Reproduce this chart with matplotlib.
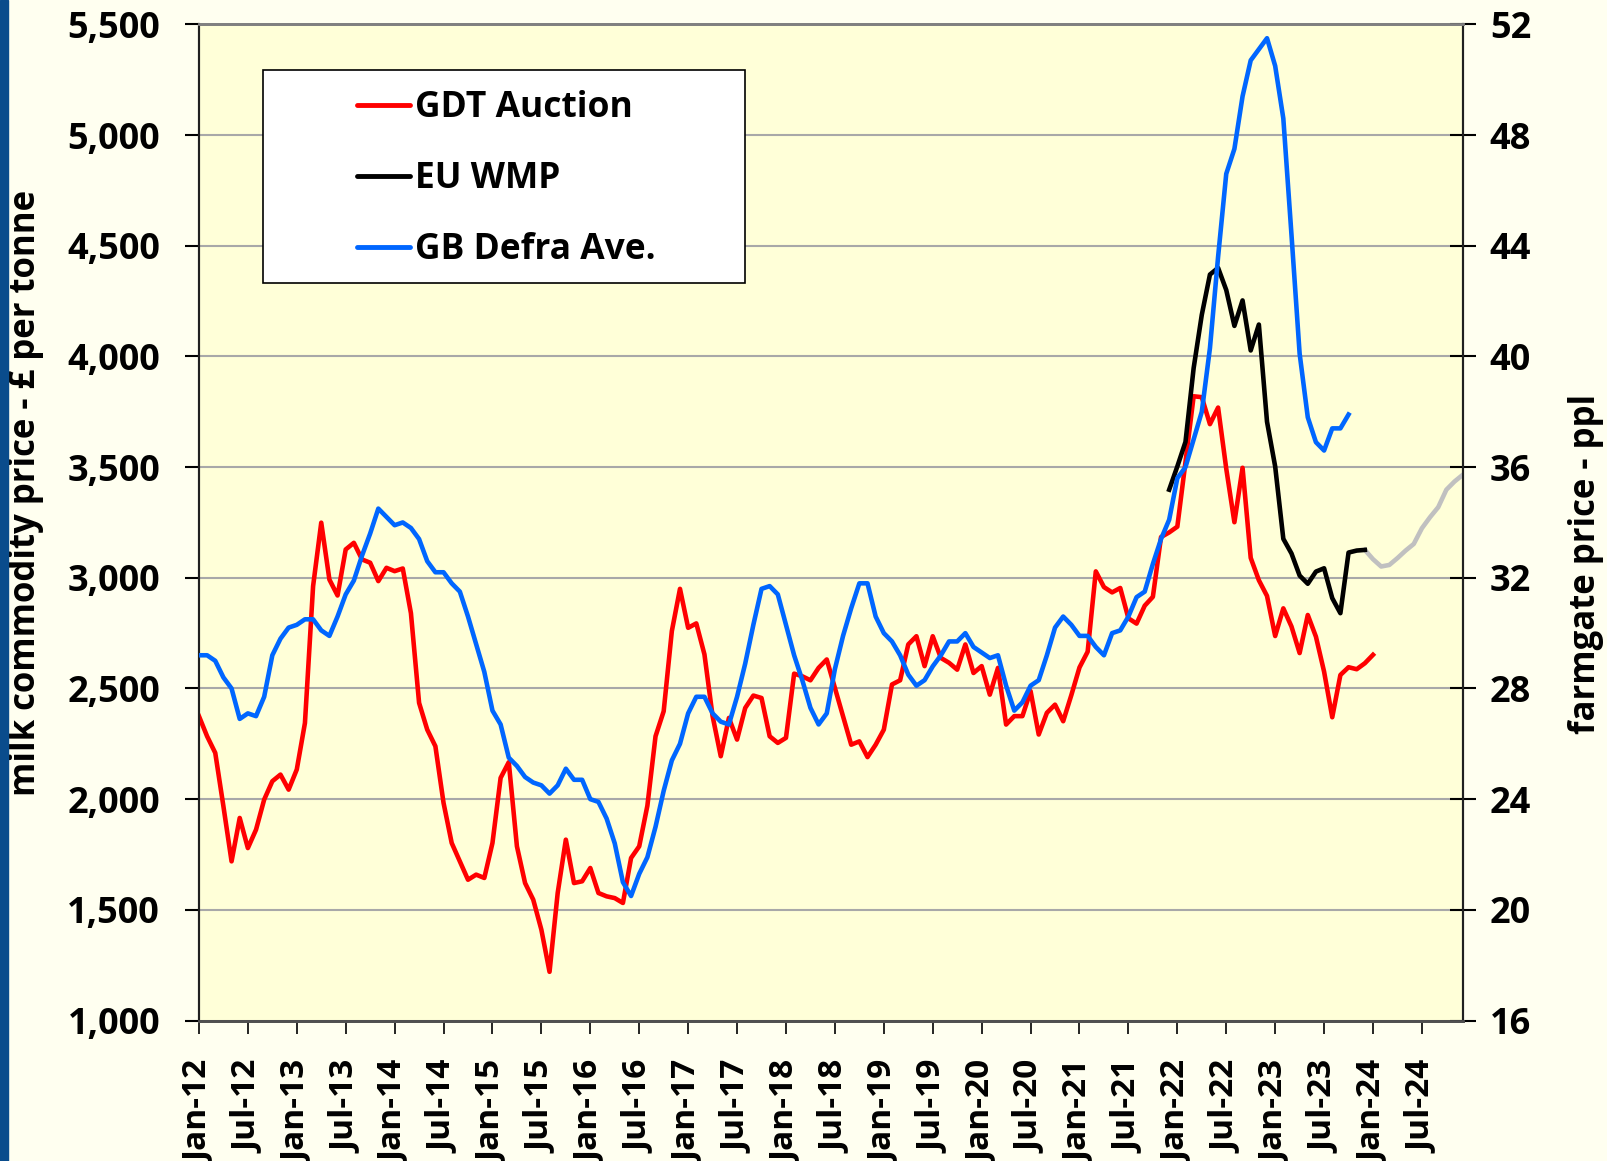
import numpy as np
import pandas as pd
import matplotlib
matplotlib.use('Agg')
import matplotlib.pyplot as plt
from matplotlib.lines import Line2D
from matplotlib.patches import Rectangle
from matplotlib.ticker import FuncFormatter

plt.rcParams['font.family'] = ['Open Sans', 'DejaVu Sans']
plt.rcParams['font.weight'] = 'bold'

# monthly series, month 0 = Jan-12
gdt_auction = [
    2375, 2284, 2209, 1968, 1719, 1915, 1779, 1862, 1998, 2081, 2111, 2043,
    2134, 2344, 2962, 3249, 2992, 2920, 3128, 3158, 3083, 3068, 2985, 3045,
    3030, 3042, 2840, 2435, 2314, 2239, 1983, 1802, 1719, 1636, 1659, 1644,
    1802, 2096, 2167, 1787, 1621, 1546, 1410, 1220, 1576, 1817, 1621, 1629,
    1689, 1576, 1561, 1553, 1531, 1734, 1787, 1970, 2284, 2397, 2759, 2950,
    2774, 2794, 2654, 2375, 2194, 2367, 2269, 2412, 2468, 2457, 2284, 2254,
    2277, 2567, 2555, 2537, 2593, 2631, 2503, 2375, 2246, 2261, 2190, 2246,
    2314, 2518, 2537, 2699, 2736, 2601, 2736, 2638, 2616, 2585, 2699, 2570,
    2601, 2472, 2593, 2337, 2375, 2375, 2488, 2292, 2390, 2427, 2352, 2470,
    2595, 2666, 3029, 2958, 2934, 2954, 2817, 2793, 2874, 2914, 3184, 3205,
    3231, 3523, 3820, 3816, 3694, 3769, 3493, 3251, 3497, 3090, 2989, 2918,
    2737, 2862, 2780, 2660, 2832, 2734, 2576, 2370, 2561, 2596, 2587, 2614,
    2652,
]

# EU WMP from Dec-21 (month 119) to Dec-23
eu_wmp_start = 119
eu_wmp = [
    3398, 3503, 3614, 3947, 4188, 4370, 4400, 4300, 4138, 4253, 4027, 4144,
    3705, 3503, 3176, 3110, 3010, 2973, 3028, 3043, 2908, 2840, 3114, 3123,
    3126,
]

# grey continuation Dec-23 to Dec-24
forecast_start = 143
forecast = [3126, 3084, 3051, 3058, 3089, 3123, 3153, 3224, 3274, 3319, 3398,
            3435, 3465]

# GB Defra average farmgate price, ppl (right axis)
gb_defra = [
    29.2, 29.2, 29.0, 28.4, 28.0, 26.9, 27.1, 27.0, 27.7, 29.2, 29.8, 30.2,
    30.3, 30.5, 30.5, 30.1, 29.9, 30.6, 31.4, 31.9, 32.8, 33.6, 34.5, 34.2,
    33.9, 34.0, 33.8, 33.4, 32.6, 32.2, 32.2, 31.8, 31.5, 30.6, 29.6, 28.6,
    27.2, 26.7, 25.5, 25.2, 24.8, 24.6, 24.5, 24.2, 24.5, 25.1, 24.7, 24.7,
    24.0, 23.9, 23.3, 22.4, 21.0, 20.5, 21.3, 21.9, 23.0, 24.3, 25.4, 26.0,
    27.1, 27.7, 27.7, 27.1, 26.8, 26.7, 27.7, 28.9, 30.3, 31.6, 31.7, 31.4,
    30.3, 29.2, 28.3, 27.3, 26.7, 27.1, 28.7, 29.9, 30.9, 31.8, 31.8, 30.6,
    30.0, 29.7, 29.2, 28.5, 28.1, 28.3, 28.8, 29.2, 29.7, 29.7, 30.0, 29.5,
    29.3, 29.1, 29.2, 28.1, 27.2, 27.5, 28.1, 28.3, 29.2, 30.2, 30.6, 30.3,
    29.9, 29.9, 29.5, 29.2, 30.0, 30.1, 30.6, 31.3, 31.5, 32.5, 33.4, 34.1,
    35.6, 36.0, 37.0, 38.0, 40.3, 43.6, 46.6, 47.5, 49.4, 50.7, 51.1, 51.5,
    50.5, 48.6, 44.4, 40.1, 37.8, 36.9, 36.6, 37.4, 37.4, 37.9,
]

tick_months = list(range(0, 151, 6))
tick_labels = [d.strftime('%b-%y') for d in
               pd.date_range('2012-01-01', '2024-07-01', freq='6MS')]


def main():
    fig = plt.figure(figsize=(16.07, 11.61), dpi=100, facecolor='#FFFFF0')
    ax = fig.add_axes([0.1238, 0.121, 0.7864, 0.858])
    ax.set_facecolor('#FFFFD8')
    fig.patches.append(Rectangle((0, 0), 0.0052, 1, transform=fig.transFigure,
                                 color='#0A4C8C', zorder=0))

    lw = 3.3
    m = np.arange(len(gdt_auction))
    ax.plot(m, gdt_auction, color='#FF0000', lw=lw, zorder=3)
    m_eu = np.arange(eu_wmp_start, eu_wmp_start + len(eu_wmp))
    m_fc = np.arange(forecast_start, forecast_start + len(forecast))
    ax.plot(m_fc, forecast, color='#C0C0C0', lw=lw, zorder=3)
    ax.plot(m_eu, eu_wmp, color='black', lw=lw, zorder=4)

    ax.set_xlim(0, 155)
    ax.set_ylim(1000, 5500)
    ax.set_yticks(range(1000, 5501, 500))
    ax.yaxis.set_major_formatter(FuncFormatter(lambda v, p: f'{v:,.0f}'))
    ax.set_xticks(tick_months)
    ax.set_xticklabels(tick_labels, rotation=90)
    ax.grid(axis='y', color='#A8A8A8', lw=1.5, zorder=0)
    ax.set_axisbelow(True)
    ax.tick_params(axis='y', direction='out', length=10, width=1.5,
                   labelsize=26, pad=18)
    ax.tick_params(axis='x', direction='out', length=9, width=1.2,
                   labelsize=24, pad=20)
    ax.set_ylabel('milk commodity price - £ per tonne', fontsize=25,
                  fontweight='bold')
    ax.yaxis.set_label_coords(-0.123, 0.53)

    ax2 = ax.twinx()
    ax2.plot(np.arange(len(gb_defra)), gb_defra, color='#0066FF', lw=lw,
             zorder=5)
    ax2.set_ylim(16, 52)
    ax2.set_yticks(range(16, 53, 4))
    ax2.tick_params(axis='y', direction='inout', length=19, width=1.5,
                    labelsize=26, pad=10)
    ax2.set_ylabel('farmgate price - ppl', fontsize=25, fontweight='bold',
                   rotation=90)
    ax2.yaxis.set_label_coords(1.083, 0.458)

    for a in (ax, ax2):
        a.spines['top'].set_color('#808080')
        a.spines['top'].set_linewidth(2)
        a.spines['left'].set_color('#202020')
        a.spines['left'].set_linewidth(1.5)
        a.spines['bottom'].set_color('#505050')
        a.spines['bottom'].set_linewidth(2)
        a.spines['right'].set_color('#202020')
        a.spines['right'].set_linewidth(1.5)

    # legend box
    ax2.add_patch(Rectangle((0.0506, 0.740), 0.3814, 0.214,
                            transform=ax2.transAxes, facecolor='white',
                            edgecolor='black', lw=1.2, zorder=10))
    entries = [('GDT Auction', '#FF0000'), ('EU WMP', 'black'),
               ('GB Defra Ave.', '#0066FF')]
    for i, (name, col) in enumerate(entries):
        y = 0.9195 - i * 0.0716
        ax2.add_line(Line2D([0.125, 0.167], [y, y], transform=ax2.transAxes,
                            color=col, lw=3.5, solid_capstyle='round',
                            zorder=11))
        ax2.text(0.171, y - 0.003, name, transform=ax2.transAxes,
                 fontsize=25.5, fontweight='bold', va='center', ha='left',
                 zorder=11)

    fig.savefig('out.png', facecolor=fig.get_facecolor())


if __name__ == "__main__":
    main()
